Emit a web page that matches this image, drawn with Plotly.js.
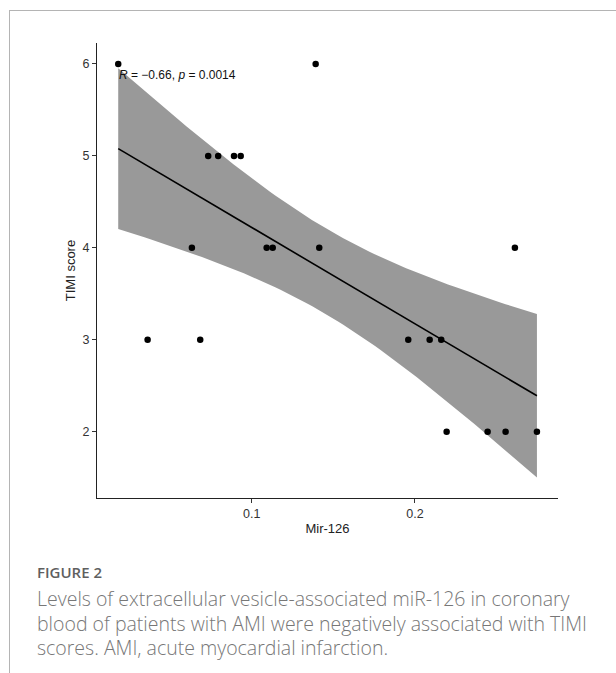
<!DOCTYPE html>
<html>
<head>
<meta charset="utf-8">
<script src="https://cdn.plot.ly/plotly-3.0.1.min.js"></script>
<style>
  html, body { margin:0; padding:0; background:#fff; width:616px; height:673px; overflow:hidden; }
  #frameTop { position:absolute; left:9px; top:10px; width:607px; height:0; border-top:1px solid #b4b4b4; }
  #frameLeft { position:absolute; left:9px; top:10px; width:0; height:663px; border-left:1px solid #b4b4b4; }
  #chart { position:absolute; left:0; top:0; width:616px; height:673px; }
  #figlabel { position:absolute; left:37px; top:562px; font-family:"Open Sans", sans-serif; font-size:15px; font-weight:600; color:#5f5f5f; }
  #caption { position:absolute; left:37px; top:587px; width:590px; font-family:"Open Sans", sans-serif; font-size:19.5px; line-height:24.5px; color:#777; font-weight:300; white-space:nowrap; }
</style>
</head>
<body>
<div id="chart"></div>
<div id="frameTop"></div>
<div id="frameLeft"></div>
<div id="figlabel">FIGURE 2</div>
<div id="caption">Levels of extracellular vesicle-associated miR-126 in coronary<br>blood of patients with AMI were negatively associated with TIMI<br>scores. AMI, acute myocardial infarction.</div>
<script>
// Data
const mir126 = [0.0183, 0.1392, 0.0734, 0.0795, 0.0892, 0.0933, 0.0634, 0.1092, 0.1129, 0.1414,
                0.2612, 0.0363, 0.0685, 0.1959, 0.2090, 0.2161, 0.2194, 0.2445, 0.2555, 0.2747];
const timi   = [6, 6, 5, 5, 5, 5, 4, 4, 4, 4,
                4, 3, 3, 3, 3, 3, 2, 2, 2, 2];
const xTickVals = [0.1, 0.2];
const xTickText = ['0.1', '0.2'];
const yTickVals = [2, 3, 4, 5, 6];
const yTickText = ['2', '3', '4', '5', '6'];
const corLabel = '<i>R</i> = \u22120.66, <i>p</i> = 0.0014';

// Linear fit with 95% confidence band (as geom_smooth(method = "lm"))
const n = mir126.length;
const mx = mir126.reduce((a, b) => a + b, 0) / n;
const my = timi.reduce((a, b) => a + b, 0) / n;
let sxx = 0, sxy = 0;
for (let i = 0; i < n; i++) { sxx += (mir126[i] - mx) ** 2; sxy += (mir126[i] - mx) * (timi[i] - my); }
const slope = sxy / sxx;
const icpt = my - slope * mx;
let sse = 0;
for (let i = 0; i < n; i++) { sse += (timi[i] - (icpt + slope * mir126[i])) ** 2; }
const s = Math.sqrt(sse / (n - 2));
const tq = 2.100922; // qt(0.975, 18)
const xmin = Math.min(...mir126), xmax = Math.max(...mir126);
const fx = [], fy = [], up = [], lo = [];
const steps = 80;
for (let k = 0; k <= steps; k++) {
  const x = xmin + (xmax - xmin) * k / steps;
  const yh = icpt + slope * x;
  const se = s * Math.sqrt(1 / n + (x - mx) ** 2 / sxx);
  fx.push(x); fy.push(yh); up.push(yh + tq * se); lo.push(yh - tq * se);
}
const bandX = fx.concat(fx.slice().reverse());
const bandY = up.concat(lo.slice().reverse());

const traces = [
  { x: bandX, y: bandY, type: 'scatter', mode: 'lines', fill: 'toself',
    fillcolor: '#999999', line: { width: 0, color: 'rgba(0,0,0,0)' }, hoverinfo: 'skip' },
  { x: fx, y: fy, type: 'scatter', mode: 'lines', line: { color: '#000', width: 1.6 } },
  { x: mir126, y: timi, type: 'scatter', mode: 'markers',
    marker: { color: '#000', size: 6.5 } }
];

const tickFont = { family: 'Liberation Sans, Arial, sans-serif', size: 12.5, color: '#333' };
const titleFont = { family: 'Liberation Sans, Arial, sans-serif', size: 13, color: '#222' };
const layout = {
  width: 616, height: 673,
  margin: { l: 97, r: 58, t: 43, b: 175, pad: 0 },
  paper_bgcolor: 'rgba(0,0,0,0)', plot_bgcolor: 'rgba(0,0,0,0)',
  showlegend: false,
  xaxis: {
    range: [0.0053, 0.2876], tickvals: xTickVals, ticktext: xTickText,
    showgrid: false, zeroline: false, showline: true, linecolor: '#222', linewidth: 1,
    ticks: 'outside', ticklen: 4, tickcolor: '#333', tickwidth: 1,
    tickfont: tickFont, automargin: false,
    title: { text: 'Mir-126', font: titleFont, standoff: 3 }
  },
  yaxis: {
    range: [1.279, 6.228], tickvals: yTickVals, ticktext: yTickText,
    showgrid: false, zeroline: false, showline: true, linecolor: '#222', linewidth: 1,
    ticks: 'outside', ticklen: 4, tickcolor: '#333', tickwidth: 1,
    tickfont: tickFont, automargin: false,
    title: { text: 'TIMI score', font: titleFont, standoff: 3 }
  },
  annotations: [{
    x: xmin, y: 6, xref: 'x', yref: 'y', xanchor: 'left', yanchor: 'top',
    yshift: -2, xshift: -1, showarrow: false, text: corLabel,
    font: { family: 'Liberation Sans, Arial, sans-serif', size: 12, color: '#111' }
  }]
};
Plotly.newPlot('chart', traces, layout, { staticPlot: true, displayModeBar: false });
</script>
</body>
</html>
